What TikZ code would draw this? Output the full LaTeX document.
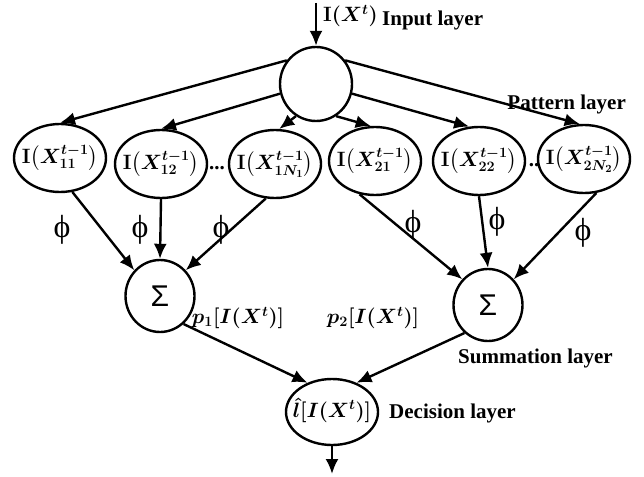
\documentclass[tikz,border=0pt]{standalone}
\usepackage{fontspec}
\setmainfont{Liberation Serif}
\newfontfamily\symfont{Liberation Sans}
\usepackage{amsmath}
\usetikzlibrary{shapes.geometric,arrows.meta}
\begin{document}
\begin{tikzpicture}[x=1pt,y=-1pt,line width=2.4pt,
  every node/.style={inner sep=0pt},
  nd/.style={draw,ellipse,minimum width=92pt,minimum height=68pt},
  ntxt/.style={font=\fontsize{21}{23}\selectfont\boldmath},
  ar/.style={-{Latex[length=15pt,width=13pt]}},
  lbl/.style={font=\fontsize{21}{23}\selectfont\bfseries},
  mlbl/.style={font=\fontsize{21}{23}\selectfont\boldmath},
  phl/.style={font=\fontsize{32}{34}\selectfont},
  sumnd/.style={draw,ellipse,minimum width=69pt,minimum height=72pt,font=\fontsize{30}{32}\selectfont\symfont}]
\useasboundingbox (0,0) rectangle (644,476);
% input
\node[draw,ellipse,minimum width=72pt,minimum height=74pt] (in) at (316,84) {};
\coordinate (top) at (316,3);
\draw[ar] (top) -- (in.north);
\node[font=\fontsize{20}{22}\selectfont\boldmath,anchor=west] (inl) at (322,16) {$\mathbf{I}(X^{t})$};
\node[lbl,anchor=west] (inputlayer) at (381,20) {Input layer};
\node[lbl,anchor=east] (patternlayer) at (627,104) {Pattern layer};
% pattern nodes
\node[nd] (p1) at (60,158) {};
\node[nd] (p2) at (161,164) {};
\node[nd] (p3) at (275,164) {};
\node[nd] (p4) at (375,161) {};
\node[nd] (p5) at (479,161) {};
\node[nd] (p6) at (584,159) {};
\node[ntxt] (t1) at (p1) {$\mathbf{I}\bigl(X^{t-1}_{11}\bigr)$};
\node[ntxt] (t2) at (p2) {$\mathbf{I}\bigl(X^{t-1}_{12}\bigr)$};
\node[ntxt] (t3) at (p3) {$\mathbf{I}\bigl(X^{t-1}_{1N_1}\bigr)$};
\node[ntxt] (t4) at (p4) {$\mathbf{I}\bigl(X^{t-1}_{21}\bigr)$};
\node[ntxt] (t5) at (p5) {$\mathbf{I}\bigl(X^{t-1}_{22}\bigr)$};
\node[ntxt] (t6) at (p6) {$\mathbf{I}\bigl(X^{t-1}_{2N_2}\bigr)$};
\node[font=\fontsize{21}{23}\selectfont\bfseries] (dots1) at (217,168) {...};
\node[font=\fontsize{21}{23}\selectfont\bfseries] (dots2) at (534,165) {..};
% edges input -> pattern
\draw[ar] (in.141) -- (p1.north);
\draw[ar] (in.195) -- (p2.north);
\draw[ar] (in.238) -- (p3.83);
\draw[ar] (in.302) -- (p4.97);
\draw[ar] (in.-15) -- (p5.106);
\draw[ar] (in.39) -- (p6.97);
% summation
\node[sumnd] (s1) at (160,296) {Σ};
\node[sumnd] (s2) at (488,305) {Σ};
\draw[ar] (p1.-70) -- (s1.135);
\draw[ar] (p2.south) -- (s1.north);
\draw[ar] (p3.-105) -- (s1.45);
\draw[ar] (p4.-115) -- (s2.135);
\draw[ar] (p5.south) -- (s2.north);
\draw[ar] (p6.-70) -- (s2.45);
\node[phl] (f1) at (62,230) {ϕ};
\node[phl] (f2) at (140,230) {ϕ};
\node[phl] (f3) at (221,230) {ϕ};
\node[phl] (f4) at (413,225) {ϕ};
\node[phl] (f5) at (497,222) {ϕ};
\node[phl] (f6) at (583,233) {ϕ};
% decision
\node[draw,ellipse,minimum width=92pt,minimum height=66pt] (d) at (332,412) {};
\node[font=\fontsize{20}{22}\selectfont\boldmath] (dl) at (332,410) {$\hat{l}[I(X^{t})]$};
\draw[ar] (s1.-50) -- (d.130);
\draw[ar] (s2.-130) -- (d.50);
\coordinate (out) at (332,474);
\draw[ar] (d.south) -- (out);
\node[mlbl] (pl1) at (238,318) {$p_1[I(X^{t})]$};
\node[mlbl] (pl2) at (373,318) {$p_2[I(X^{t})]$};
\node[lbl,anchor=west] (sumlayer) at (457,358) {Summation layer};
\node[lbl,anchor=west] (declayer) at (388,413) {Decision layer};
\end{tikzpicture}
\end{document}
